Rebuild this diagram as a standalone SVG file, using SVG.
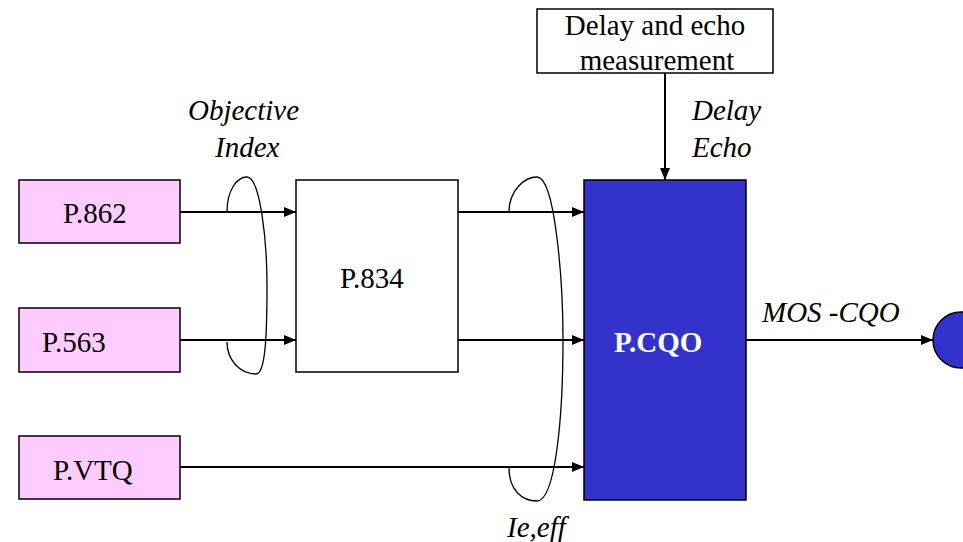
<svg xmlns="http://www.w3.org/2000/svg" width="963" height="542" viewBox="0 0 963 542">
<defs>
<marker id="ah" markerWidth="12" markerHeight="10" refX="12" refY="5" orient="auto" markerUnits="userSpaceOnUse">
<path d="M0,0 L12,5 L0,10 Z" fill="#000"/>
</marker>
<style>
text{font-family:'Liberation Serif','Tinos','Times New Roman','DejaVu Serif',serif;font-size:29px;fill:#000}
.i{font-style:italic}
.pink{fill:#FFCCFF;stroke:#000;stroke-width:1.5}
.white{fill:#fff;stroke:#000;stroke-width:1.5}
.blue{fill:#3333CC;stroke:#000;stroke-width:1.5}
.c{stroke:#000;stroke-width:2;fill:none}
.loop{stroke:#000;stroke-width:1.3;fill:none}
</style>
</defs>
<rect width="963" height="542" fill="#fff"/>
<g id="connectors">
<line class="c" x1="180" y1="212" x2="296" y2="212" marker-end="url(#ah)"/>
<line class="c" x1="180" y1="340" x2="296" y2="340" marker-end="url(#ah)"/>
<line class="c" x1="458" y1="212" x2="584" y2="212" marker-end="url(#ah)"/>
<line class="c" x1="458" y1="340" x2="584" y2="340" marker-end="url(#ah)"/>
<line class="c" x1="180" y1="467" x2="584" y2="467" marker-end="url(#ah)"/>
<line class="c" x1="665" y1="73" x2="665" y2="180" marker-end="url(#ah)"/>
<line class="c" x1="746" y1="340" x2="933" y2="340" marker-end="url(#ah)"/>
<path class="loop" d="M227,212 C227,190 237,177 247,177 C260,177 267,240 267,285 C267,330 266,374 256,374 C240,374 227,360 227,342"/>
<path class="loop" d="M509,212 C509,190 525,177 537,177 C555,177 563,280 563,340 C563,420 555,501 537,501 C522,501 509,490 509,468"/>
<text class="i" x="188" y="120">Objective</text>
<text class="i" x="215" y="157">Index</text>
<text class="i" x="692" y="120">Delay</text>
<text class="i" x="692" y="157">Echo</text>
<text class="i" x="762" y="322">MOS -CQO</text>
<text class="i" x="507" y="537">Ie,eff</text>
</g>
<g id="p862">
<rect class="pink" x="19" y="180" width="161" height="63"/>
<text x="63" y="223">P.862</text>
</g>
<g id="p563">
<rect class="pink" x="19" y="308" width="161" height="64"/>
<text x="42" y="352">P.563</text>
</g>
<g id="pvtq">
<rect class="pink" x="19" y="436" width="161" height="63"/>
<text x="53" y="480">P.VTQ</text>
</g>
<g id="p834">
<rect class="white" x="296" y="180" width="162" height="192"/>
<text x="340" y="288">P.834</text>
</g>
<g id="pcqo">
<rect class="blue" x="584" y="180" width="162" height="320"/>
<text x="614" y="352" style="fill:#fff;font-weight:bold">P.CQO</text>
</g>
<g id="delay">
<rect class="white" x="537" y="9" width="236" height="64"/>
<text x="655" y="35" text-anchor="middle">Delay and echo</text>
<text x="657" y="70" text-anchor="middle">measurement</text>
</g>
<g id="output">
<circle cx="961" cy="340" r="28" fill="#3333CC" stroke="#000" stroke-width="1.5"/>
</g>
</svg>
